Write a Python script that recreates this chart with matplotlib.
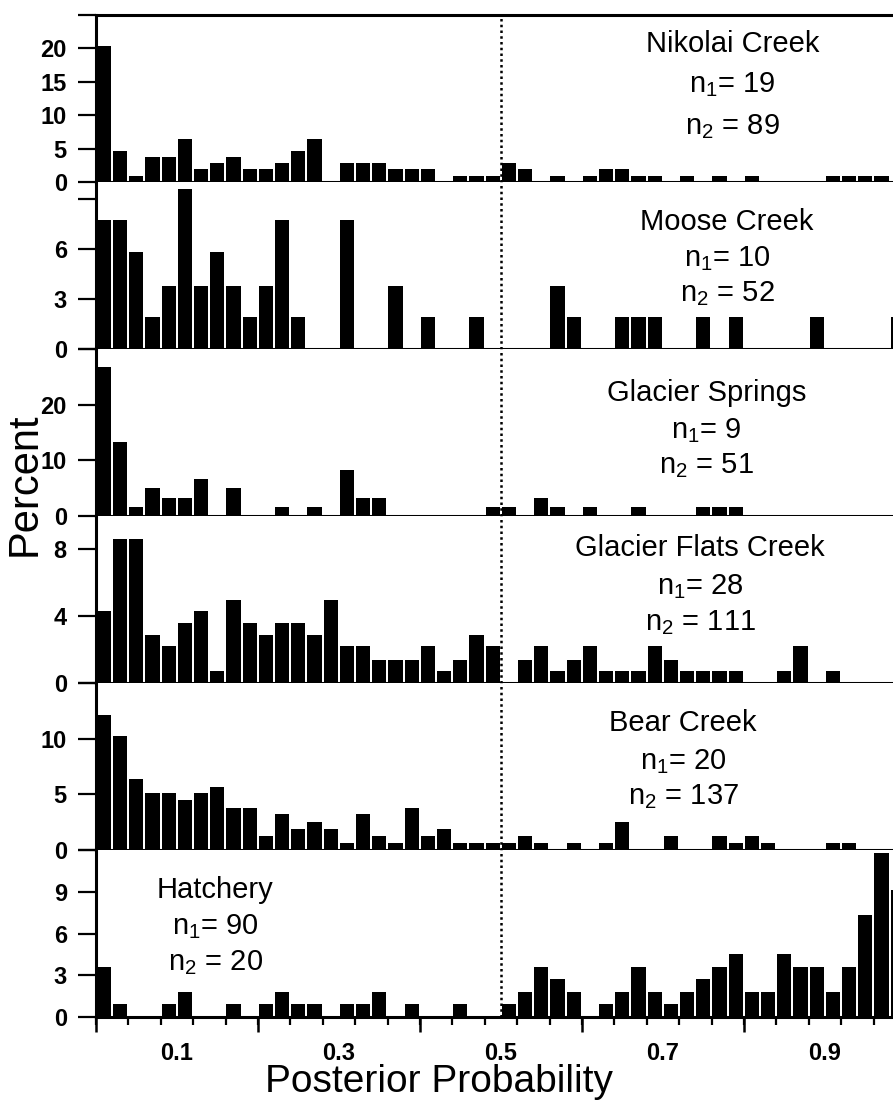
import numpy as np
import matplotlib
matplotlib.use('Agg')
import matplotlib.pyplot as plt
from matplotlib.ticker import FixedLocator

plt.rcParams['font.family'] = ['Liberation Sans', 'DejaVu Sans']
plt.rcParams['mathtext.default'] = 'regular'

# bins of width 0.02 from 0 to 1
bins = np.arange(0, 1.0, 0.02)

# percent per bin
nikolai = [20.4, 4.6, 0.9, 3.7, 3.7, 6.5, 1.9, 2.8, 3.7, 1.9,
           1.9, 2.8, 4.6, 6.5, 0, 2.8, 2.8, 2.8, 1.9, 1.9,
           1.9, 0, 0.9, 0.9, 0.9, 2.8, 1.9, 0, 0.9, 0,
           0.9, 1.9, 1.9, 0.9, 0.9, 0, 0.9, 0, 0.9, 0,
           0.9, 0, 0, 0, 0, 0.9, 0.9, 0.9, 0.9, 0]
moose = [7.7, 7.7, 5.8, 1.9, 3.8, 9.6, 3.8, 5.8, 3.8, 1.9,
         3.8, 7.7, 1.9, 0, 0, 7.7, 0, 0, 3.8, 0,
         1.9, 0, 0, 1.9, 0, 0, 0, 0, 3.8, 1.9,
         0, 0, 1.9, 1.9, 1.9, 0, 0, 1.9, 0, 1.9,
         0, 0, 0, 0, 1.9, 0, 0, 0, 0, 1.9]
glacier_springs = [26.7, 13.3, 1.7, 5.0, 3.3, 3.3, 6.7, 0, 5.0, 0,
                   0, 1.7, 0, 1.7, 0, 8.3, 3.3, 3.3, 0, 0,
                   0, 0, 0, 0, 1.7, 1.7, 0, 3.3, 1.7, 0,
                   1.7, 0, 0, 1.7, 0, 0, 0, 1.7, 1.7, 1.7,
                   0, 0, 0, 0, 0, 0, 0, 0, 0, 0]
glacier_flats = [4.3, 8.6, 8.6, 2.9, 2.2, 3.6, 4.3, 0.7, 5.0, 3.6,
                 2.9, 3.6, 3.6, 2.9, 5.0, 2.2, 2.2, 1.4, 1.4, 1.4,
                 2.2, 0.7, 1.4, 2.9, 2.2, 0, 1.4, 2.2, 0.7, 1.4,
                 2.2, 0.7, 0.7, 0.7, 2.2, 1.4, 0.7, 0.7, 0.7, 0.7,
                 0, 0, 0.7, 2.2, 0, 0.7, 0, 0, 0, 0]
bear = [12.1, 10.2, 6.4, 5.1, 5.1, 4.5, 5.1, 5.7, 3.8, 3.8,
        1.3, 3.2, 1.9, 2.5, 1.9, 0.6, 3.2, 1.3, 0.6, 3.8,
        1.3, 1.9, 0.6, 0.6, 0.6, 0.6, 1.3, 0.6, 0, 0.6,
        0, 0.6, 2.5, 0, 0, 1.3, 0, 0, 1.3, 0.6,
        1.3, 0.6, 0, 0, 0, 0.6, 0.6, 0, 0, 0]
hatchery = [3.6, 0.9, 0, 0, 0.9, 1.8, 0, 0, 0.9, 0,
            0.9, 1.8, 0.9, 0.9, 0, 0.9, 0.9, 1.8, 0, 0.9,
            0, 0, 0.9, 0, 0, 0.9, 1.8, 3.6, 2.7, 1.8,
            0, 0.9, 1.8, 3.6, 1.8, 0.9, 1.8, 2.7, 3.6, 4.5,
            1.8, 1.8, 4.5, 3.6, 3.6, 1.8, 3.6, 7.3, 11.8, 9.1]

series = [nikolai, moose, glacier_springs, glacier_flats, bear, hatchery]
names = ['Nikolai Creek', 'Moose Creek', 'Glacier Springs',
         'Glacier Flats Creek', 'Bear Creek', 'Hatchery']
n1 = [19, 10, 9, 28, 20, 90]
n2 = [89, 52, 51, 111, 137, 20]

# y axis of each panel: top, tick step, highest labelled tick
y_top = [25, 10, 30, 10, 15, 12]
y_step = [5, 3, 10, 4, 5, 3]
y_lab_max = [20, 6, 20, 8, 10, 9]

# where the labels go (x in data, baselines in axes fraction)
txt_x = [0.786, 0.779, 0.754, 0.746, 0.725, 0.147]
txt_y = [(0.779, 0.535, 0.288), (0.713, 0.494, 0.287), (0.686, 0.467, 0.254),
         (0.758, 0.533, 0.315), (0.710, 0.485, 0.272), (0.715, 0.497, 0.279)]

fig, axes = plt.subplots(6, 1, figsize=(8.93, 11), dpi=100, sharex=True)
fig.subplots_adjust(left=96 / 893, right=1.0, top=1 - 15 / 1100,
                    bottom=1 - 1017 / 1100, hspace=0)

for i, ax in enumerate(axes):
    ax.bar(bins + 0.001, series[i], width=0.0175, align='edge',
           color='black', edgecolor='none', zorder=2)
    ax.axvline(0.5, color='black', lw=1.8, ls=(0, (1, 1.3)), zorder=3)
    ax.set_xlim(0, 0.984)
    ax.set_ylim(0, y_top[i])

    ticks = list(np.arange(0, y_top[i] + 0.01, y_step[i]))
    ax.set_yticks(ticks)
    ax.set_yticklabels(['%g' % t if t <= y_lab_max[i] else '' for t in ticks],
                       fontweight='bold', fontsize=17)
    ax.tick_params(axis='y', direction='out', length=13, width=1.6, pad=8)

    for s in ['left', 'bottom', 'top']:
        ax.spines[s].set_linewidth(2.2)
    ax.spines['right'].set_visible(False)
    if i > 0:
        ax.spines['top'].set_visible(False)

    ax.text(txt_x[i], txt_y[i][0], names[i], transform=ax.get_xaxis_transform(),
            ha='center', va='baseline', fontsize=21)
    ax.text(txt_x[i], txt_y[i][1], 'n$_1$= %d' % n1[i], transform=ax.get_xaxis_transform(),
            ha='center', va='baseline', fontsize=21)
    ax.text(txt_x[i], txt_y[i][2], 'n$_2$ = %d' % n2[i], transform=ax.get_xaxis_transform(),
            ha='center', va='baseline', fontsize=21)

    if i < 5:
        ax.tick_params(axis='x', which='both', bottom=False, labelbottom=False)

# bottom axis: labels at odd tenths, short ticks every 0.04, long ones every 0.2
ax = axes[-1]
ax.set_xticks([0.1, 0.3, 0.5, 0.7, 0.9])
ax.set_xticklabels(['0.1', '0.3', '0.5', '0.7', '0.9'], fontweight='bold', fontsize=17)
ax.tick_params(axis='x', which='major', length=0, pad=18)
ax.xaxis.set_minor_locator(FixedLocator(np.arange(0, 0.99, 0.04)))
ax.tick_params(axis='x', which='minor', direction='out', length=6, width=1.6)
sec = ax.secondary_xaxis('bottom')
sec.set_xticks([0, 0.2, 0.4, 0.6, 0.8])
sec.set_xticklabels([])
sec.tick_params(axis='x', direction='out', length=11, width=1.8)
sec.spines['bottom'].set_visible(False)

fig.text(0.492, 1 - 1092 / 1100, 'Posterior Probability', ha='center',
         va='baseline', fontsize=28)
fig.text(0.028, 1 - 484 / 1100, 'Percent', ha='center', va='center',
         rotation=90, fontsize=30)

fig.savefig('out.png', dpi=100)
